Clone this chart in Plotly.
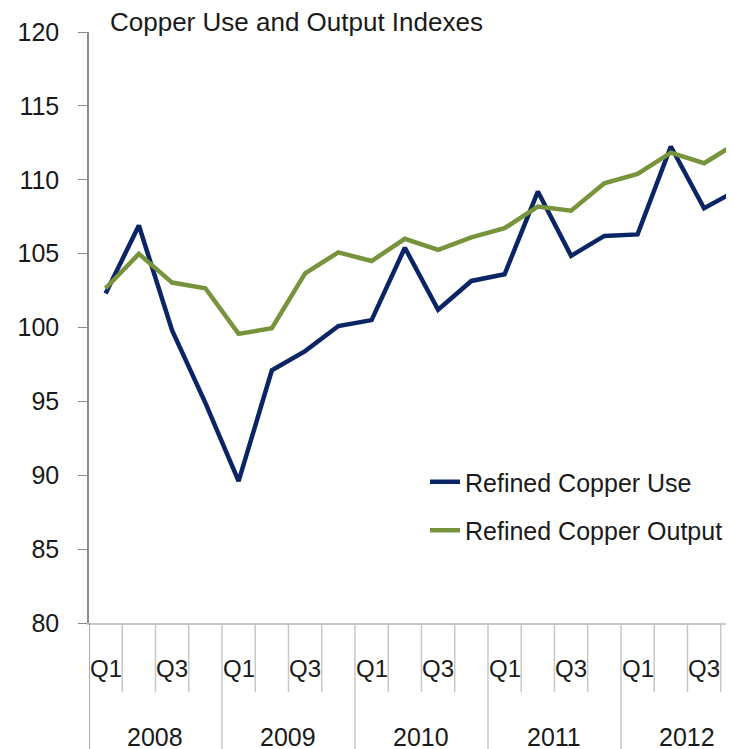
import plotly.graph_objects as go

# ---- data ----
years = ["2008", "2009", "2010", "2011", "2012"]
quarters = ["Q1", "Q2", "Q3", "Q4"]
copper_use = [102.3, 106.9, 99.8, 94.9, 89.6, 97.1, 98.4, 100.1, 100.5, 105.4,
              101.2, 103.15, 103.6, 109.2, 104.85, 106.2, 106.3, 112.25, 108.07, 109.3]
copper_output = [102.66, 104.98, 103.04, 102.66, 99.57, 99.95, 103.67, 105.09, 104.5, 106.0,
                 105.25, 106.1, 106.72, 108.18, 107.91, 109.76, 110.39, 111.83, 111.12, 112.5]
shown_quarters = ["Q1", "Q3"]
y_ticks = [80, 85, 90, 95, 100, 105, 110, 115, 120]

FONT = "Liberation Sans"
TXT = "#1a1a1a"
BODY = 8  # default page margin of the html body
n = len(years) * len(quarters)
idx = list(range(n))

fig = go.Figure()
fig.add_trace(go.Scatter(x=idx, y=copper_use, mode="lines", name="Refined Copper Use",
                         line=dict(color="#0b2465", width=4.5), legendgroup="a"))
fig.add_trace(go.Scatter(x=idx, y=copper_output, mode="lines", name="Refined Copper Output",
                         line=dict(color="#77933c", width=4.5), legendgroup="b"))

plot_h = 591.0
plot_w = 645.0
short_sep = -(692 - 623) / plot_h
long_sep = -(760 - 623) / plot_h
q_label_y = -(668 - 623) / plot_h
yr_label_y = -(737 - 623) / plot_h

shapes = []
annotations = []
for k in range(n + 1):
    is_year = (k % len(quarters) == 0)
    shapes.append(dict(type="line", xref="x", yref="paper", x0=k - 0.5, x1=k - 0.5,
                       y0=0, y1=long_sep if is_year else short_sep,
                       line=dict(color="#8a8a8a" if k == 0 else "#c8c8c8", width=1.5)))
for yi, yr in enumerate(years):
    for qi, q in enumerate(quarters):
        if q in shown_quarters:
            annotations.append(dict(x=yi * len(quarters) + qi, y=q_label_y, xref="x", yref="paper",
                                    text=q, showarrow=False, xanchor="center", yanchor="middle",
                                    font=dict(family=FONT, size=24, color=TXT)))
    annotations.append(dict(x=yi * len(quarters) + (len(quarters) - 1) / 2, y=yr_label_y,
                            xref="x", yref="paper", text=yr, showarrow=False,
                            xanchor="center", yanchor="middle",
                            font=dict(family=FONT, size=25, color=TXT)))

fig.update_layout(
    width=734, height=749,
    margin=dict(l=89 - BODY, r=BODY, t=32 - BODY, b=749 - 623 + BODY),
    paper_bgcolor="white", plot_bgcolor="white",
    title=dict(text="Copper Use and Output Indexes", x=(110 - BODY) / 734, xanchor="left",
               xref="container", yref="container", y=1 - (22 - BODY) / 749, yanchor="middle",
               font=dict(family=FONT, size=26, color=TXT)),
    xaxis=dict(range=[-0.5, 18.9], showticklabels=False, ticks="", showgrid=False,
               zeroline=False, showline=True, linecolor="#c8c8c8", linewidth=2),
    yaxis=dict(range=[80, 120], tickvals=y_ticks, ticks="outside", ticklen=9,
               tickcolor="#8a8a8a", showline=True, linecolor="#8a8a8a", linewidth=1.5,
               showgrid=False, zeroline=False, ticklabelstandoff=14,
               tickfont=dict(family=FONT, size=25, color=TXT)),
    showlegend=True,
    legend=dict(x=(425 - 89) / plot_w, y=(623 - 459) / plot_h, xanchor="left", yanchor="top",
                bgcolor="rgba(0,0,0,0)", traceorder="grouped", tracegroupgap=13,
                font=dict(family=FONT, size=25, color=TXT)),
    shapes=shapes, annotations=annotations,
)

fig.write_html("out.html")
